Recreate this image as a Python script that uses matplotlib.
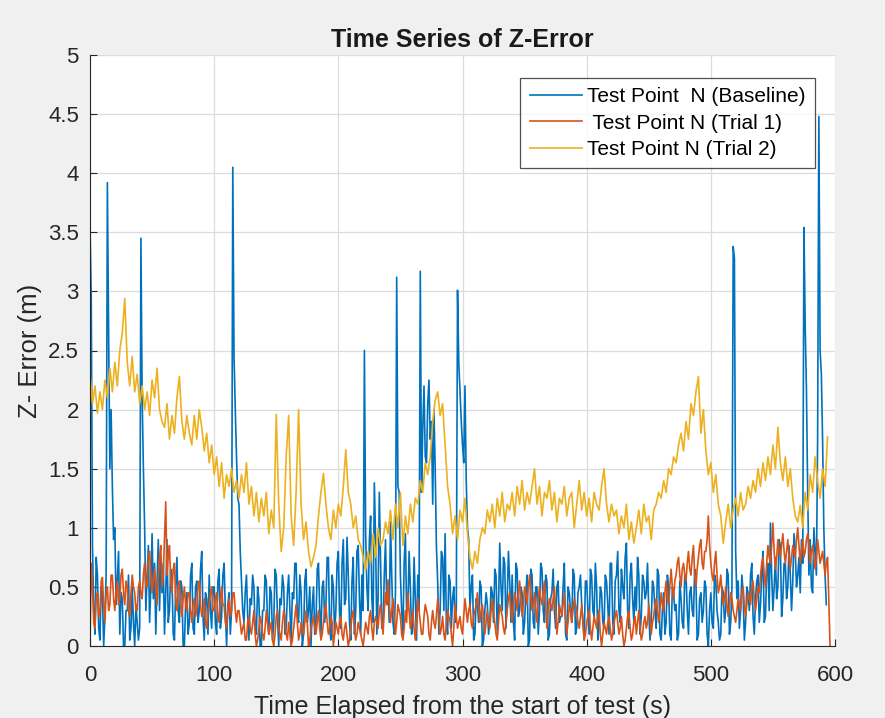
import numpy as np
import matplotlib
matplotlib.use("Agg")
import matplotlib.pyplot as plt

plt.rcParams['font.family'] = ['Liberation Sans', 'DejaVu Sans']

# sample spacing of the recorded series (s)
dt_fast = 1.0   # baseline and trial 1
dt_slow = 2.0   # trial 2

baseline = [
    3.55, 2.95, 0.85, 0.3, 0.1, 0.75, 0.6, 0.15, 0.05, 0.5, 0.45, 0.0, 0.25, 0.6, 3.92, 2.65, 1.5, 2.0, 1.35, 0.9,
    1.0, 0.35, 0.55, 0.8, 0.1, 0.45, 0.4, 0.0, 0.0, 0.3, 0.3, 0.6, 0.05, 0.15, 0.5, 0.2, 0.0, 0.35, 0.2, 0.05,
    0.15, 3.45, 2.1, 1.5, 1.0, 0.3, 0.6, 0.85, 0.2, 0.5, 0.95, 0.4, 0.7, 0.1, 0.55, 0.9, 0.3, 0.75, 0.45, 0.7,
    0.1, 0.45, 0.9, 0.2, 0.3, 0.65, 0.6, 0.1, 0.05, 0.5, 0.75, 0.3, 0.2, 0.55, 0.5, 0.0, 0.0, 0.35, 0.45, 0.1,
    0.2, 0.6, 0.7, 0.15, 0.1, 0.5, 0.55, 0.2, 0.3, 0.65, 0.8, 0.25, 0.05, 0.45, 0.4, 0.1, 0.6, 0.3, 0.15, 0.5,
    0.5, 0.2, 0.1, 0.55, 0.65, 0.15, 0.25, 0.6, 0.7, 0.3, 0.0, 0.35, 0.45, 0.1, 0.3, 4.05, 2.45, 2.0, 1.6, 1.25,
    1.2, 0.8, 0.55, 0.3, 0.2, 0.45, 0.6, 0.25, 0.05, 0.4, 0.35, 0.6, 0.5, 0.15, 0.1, 0.5, 0.4, 0.0, 0.0, 0.3,
    0.3, 0.6, 0.55, 0.2, 0.1, 0.5, 0.45, 0.05, 0.2, 0.65, 0.6, 0.25, 0.0, 0.4, 0.35, 0.6, 0.5, 0.1, 0.15, 0.45,
    0.6, 0.3, 0.05, 0.45, 0.4, 0.7, 0.7, 0.25, 0.2, 0.6, 0.45, 0.0, 0.1, 0.55, 0.65, 0.2, 0.3, 0.5, 0.0, 0.35,
    0.5, 0.1, 0.2, 0.65, 0.7, 0.3, 0.1, 0.5, 0.55, 0.2, 0.35, 0.75, 0.75, 0.15, 0.05, 0.6, 0.5, 0.1, 0.3, 0.7,
    0.8, 0.3, 0.15, 0.7, 0.9, 0.35, 0.4, 0.92, 0.6, 0.2, 0.05, 0.55, 0.75, 0.1, 0.3, 0.8, 0.85, 0.4, 0.1, 0.6,
    0.3, 2.5, 0.95, 0.5, 0.3, 0.9, 1.1, 0.4, 0.2, 1.38, 0.9, 0.1, 0.4, 1.3, 0.7, 0.15, 0.15, 0.6, 0.9, 0.35,
    0.5, 0.2, 1.05, 0.6, 0.2, 0.1, 0.45, 3.12, 1.35, 1.3, 0.6, 0.3, 0.1, 0.7, 0.95, 0.3, 0.3, 0.8, 0.5, 0.1,
    0.2, 0.75, 0.4, 0.05, 0.6, 0.3, 3.17, 1.3, 1.85, 2.2, 1.6, 1.55, 2.05, 2.25, 1.75, 1.9, 1.2, 2.0, 1.5, 0.84,
    0.55, 0.1, 0.3, 0.8, 0.75, 0.3, 0.95, 0.2, 0.1, 0.6, 0.55, 0.15, 0.4, 0.5, 0.2, 0.3, 3.01, 2.4, 2.15, 1.9,
    1.7, 1.55, 2.2, 1.4, 1.0, 0.9, 0.3, 0.5, 0.6, 0.05, 0.1, 0.4, 0.35, 0.2, 0.55, 0.5, 0.0, 0.05, 0.3, 0.45,
    0.35, 0.1, 0.2, 0.5, 0.45, 0.2, 0.65, 0.6, 0.1, 0.35, 0.87, 0.5, 0.3, 0.75, 0.7, 0.15, 0.4, 0.8, 0.55, 0.2,
    0.6, 0.2, 0.05, 0.7, 0.65, 0.25, 0.3, 0.5, 0.45, 0.1, 0.2, 0.45, 0.6, 0.0, 0.05, 0.65, 0.6, 0.2, 0.15, 0.5,
    0.5, 0.1, 0.3, 0.7, 0.65, 0.3, 0.2, 0.6, 0.55, 0.05, 0.1, 0.4, 0.45, 0.65, 0.3, 0.15, 0.5, 0.55, 0.2, 0.25,
    0.25, 0.5, 0.7, 0.1, 0.05, 0.5, 0.45, 0.3, 0.2, 0.65, 0.6, 0.1, 0.15, 0.45, 0.5, 0.6, 0.35, 0.2, 0.05, 0.55,
    0.55, 0.3, 0.1, 0.65, 0.6, 0.3, 0.25, 0.7, 0.5, 0.05, 0.2, 0.5, 0.45, 0.2, 0.15, 0.6, 0.55, 0.35, 0.1, 0.7,
    0.7, 0.2, 0.1, 0.55, 0.6, 0.8, 0.3, 0.2, 0.65, 0.5, 0.4, 0.75, 0.87, 0.3, 0.15, 0.6, 0.7, 0.4, 0.2, 0.5,
    0.3, 0.75, 0.6, 0.1, 0.25, 0.6, 0.55, 0.4, 0.45, 0.7, 0.3, 0.05, 0.2, 0.55, 0.5, 0.3, 0.15, 0.65, 0.6, 0.1,
    0.05, 0.3, 0.45, 0.1, 0.2, 0.6, 0.5, 0.1, 0.05, 0.5, 0.45, 0.3, 0.35, 0.05, 0.1, 0.55, 0.4, 0.2, 0.15, 0.6,
    0.6, 0.3, 0.1, 0.45, 0.5, 0.3, 0.25, 0.65, 0.55, 0.05, 0.1, 0.4, 0.45, 0.2, 0.3, 0.55, 0.5, 0.1, 0.0, 0.3,
    0.45, 0.2, 0.15, 0.6, 0.55, 0.3, 0.2, 0.05, 0.1, 0.5, 0.45, 0.2, 0.3, 0.65, 0.6, 0.1, 0.2, 0.5, 3.38, 3.28,
    0.8, 0.4, 0.55, 0.15, 0.3, 0.6, 0.45, 0.05, 0.2, 0.5, 0.45, 0.3, 0.6, 0.7, 0.25, 0.1, 0.4, 0.55, 0.6, 0.2,
    0.35, 0.6, 0.8, 0.2, 0.25, 0.65, 0.7, 0.3, 1.04, 0.6, 0.3, 0.5, 0.75, 0.4, 0.5, 0.9, 0.85, 0.25, 0.4, 0.7,
    0.7, 0.4, 0.5, 0.85, 0.6, 0.3, 0.55, 0.95, 0.8, 0.5, 0.6, 0.75, 0.45, 0.9, 0.7, 3.54, 2.7, 2.17, 1.3, 0.6,
    0.9, 0.5, 0.45, 1.0, 0.8, 0.6, 1.75, 4.48, 2.5, 2.3, 1.75, 1.0, 0.6, 0.35,
]

trial1 = [
    0.0, 0.7, 0.5, 0.2, 0.15, 0.4, 0.45, 0.25, 0.3, 0.55, 0.58, 0.35, 0.2, 0.45, 0.5, 0.3, 0.35, 0.6, 0.6, 0.4,
    0.3, 0.45, 0.55, 0.35, 0.4, 0.6, 0.65, 0.45, 0.35, 0.55, 0.5, 0.3, 0.25, 0.45, 0.6, 0.5, 0.45, 0.3, 0.3, 0.5,
    0.55, 0.45, 0.4, 0.6, 0.7, 0.5, 0.5, 0.75, 0.8, 0.6, 0.45, 0.55, 0.65, 0.5, 0.35, 0.6, 0.75, 0.85, 0.5, 0.6,
    0.9, 1.22, 0.6, 0.75, 0.85, 0.55, 0.45, 0.65, 0.7, 0.4, 0.3, 0.5, 0.55, 0.35, 0.25, 0.4, 0.5, 0.35, 0.3, 0.45,
    0.45, 0.3, 0.2, 0.35, 0.4, 0.25, 0.3, 0.5, 0.55, 0.35, 0.25, 0.3, 0.4, 0.2, 0.15, 0.3, 0.35, 0.45, 0.5, 0.3,
    0.3, 0.4, 0.45, 0.25, 0.2, 0.4, 0.5, 0.35, 0.35, 0.2, 0.15, 0.3, 0.4, 0.25, 0.3, 0.45, 0.45, 0.3, 0.2, 0.3,
    0.3, 0.2, 0.1, 0.15, 0.2, 0.05, 0.05, 0.2, 0.25, 0.15, 0.1, 0.2, 0.3, 0.1, 0.0, 0.05, 0.15, 0.25, 0.2, 0.1,
    0.05, 0.15, 0.3, 0.2, 0.1, 0.15, 0.2, 0.05, 0.0, 0.1, 0.25, 0.3, 0.15, 0.1, 0.05, 0.2, 0.3, 0.25, 0.1, 0.05,
    0.2, 0.1, 0.0, 0.05, 0.15, 0.25, 0.35, 0.2, 0.05, 0.1, 0.2, 0.15, 0.1, 0.2, 0.3, 0.2, 0.0, 0.05, 0.15, 0.2,
    0.25, 0.15, 0.1, 0.2, 0.3, 0.15, 0.05, 0.1, 0.2, 0.3, 0.35, 0.2, 0.1, 0.15, 0.25, 0.2, 0.0, 0.1, 0.2, 0.15,
    0.1, 0.2, 0.25, 0.1, 0.05, 0.15, 0.2, 0.1, 0.0, 0.05, 0.15, 0.25, 0.3, 0.15, 0.05, 0.1, 0.2, 0.15, 0.1, 0.05,
    0.0, 0.1, 0.2, 0.15, 0.1, 0.25, 0.3, 0.15, 0.05, 0.2, 0.25, 0.2, 0.15, 0.3, 0.35, 0.2, 0.1, 0.3, 0.45, 0.35,
    0.56, 0.35, 0.2, 0.3, 0.4, 0.25, 0.1, 0.2, 0.35, 0.3, 0.25, 0.1, 0.05, 0.15, 0.3, 0.2, 0.45, 0.3, 0.15, 0.2,
    0.3, 0.15, 0.05, 0.2, 0.4, 0.3, 0.2, 0.1, 0.1, 0.25, 0.35, 0.3, 0.25, 0.1, 0.05, 0.2, 0.3, 0.2, 0.15, 0.25,
    0.4, 0.25, 0.1, 0.15, 0.25, 0.1, 0.05, 0.2, 0.3, 0.25, 0.2, 0.1, 0.0, 0.15, 0.35, 0.25, 0.15, 0.2, 0.25, 0.15,
    0.1, 0.25, 0.4, 0.3, 0.2, 0.3, 0.35, 0.2, 0.15, 0.25, 0.3, 0.35, 0.45, 0.3, 0.2, 0.3, 0.35, 0.25, 0.1, 0.2,
    0.3, 0.2, 0.15, 0.3, 0.4, 0.3, 0.2, 0.1, 0.05, 0.2, 0.35, 0.3, 0.25, 0.15, 0.1, 0.2, 0.3, 0.4, 0.45, 0.3,
    0.2, 0.35, 0.45, 0.4, 0.3, 0.45, 0.55, 0.4, 0.25, 0.35, 0.5, 0.45, 0.35, 0.5, 0.6, 0.45, 0.3, 0.35, 0.45, 0.3,
    0.2, 0.4, 0.5, 0.4, 0.35, 0.45, 0.55, 0.35, 0.15, 0.3, 0.4, 0.35, 0.3, 0.4, 0.5, 0.3, 0.1, 0.2, 0.35, 0.3,
    0.25, 0.35, 0.45, 0.25, 0.1, 0.2, 0.35, 0.3, 0.2, 0.3, 0.4, 0.35, 0.3, 0.2, 0.15, 0.25, 0.35, 0.2, 0.05, 0.1,
    0.2, 0.25, 0.3, 0.15, 0.05, 0.15, 0.25, 0.2, 0.15, 0.25, 0.3, 0.1, 0.0, 0.1, 0.2, 0.15, 0.1, 0.2, 0.25, 0.15,
    0.05, 0.1, 0.2, 0.25, 0.3, 0.2, 0.1, 0.15, 0.25, 0.1, 0.0, 0.05, 0.15, 0.25, 0.3, 0.15, 0.05, 0.1, 0.2, 0.25,
    0.1, 0.2, 0.3, 0.15, 0.05, 0.1, 0.2, 0.25, 0.15, 0.2, 0.35, 0.25, 0.1, 0.2, 0.25, 0.35, 0.4, 0.3, 0.2, 0.3,
    0.45, 0.35, 0.3, 0.45, 0.55, 0.4, 0.35, 0.5, 0.65, 0.5, 0.4, 0.55, 0.6, 0.7, 0.75, 0.6, 0.5, 0.65, 0.7, 0.6,
    0.55, 0.7, 0.8, 0.65, 0.6, 0.75, 0.85, 0.6, 0.5, 0.65, 0.75, 0.85, 0.9, 0.7, 0.65, 0.8, 0.8, 0.9, 1.1, 0.85,
    0.7, 0.6, 0.55, 0.7, 0.8, 0.6, 0.45, 0.5, 0.6, 0.45, 0.35, 0.4, 0.5, 0.35, 0.25, 0.35, 0.45, 0.4, 0.3, 0.25,
    0.2, 0.3, 0.4, 0.35, 0.3, 0.45, 0.5, 0.35, 0.25, 0.35, 0.45, 0.4, 0.35, 0.5, 0.55, 0.4, 0.3, 0.4, 0.5, 0.45,
    0.6, 0.7, 0.75, 0.6, 0.5, 0.7, 0.85, 0.75, 0.7, 0.85, 1.04, 0.8, 0.65, 0.75, 0.9, 0.8, 0.75, 0.85, 0.95, 0.8,
    0.7, 0.8, 0.9, 0.75, 0.65, 0.75, 0.85, 0.8, 0.75, 0.9, 1.0, 0.85, 0.7, 0.8, 0.9, 0.75, 0.8, 0.9, 0.95, 0.85,
    0.7, 0.8, 0.85, 0.75, 0.65, 0.75, 0.9, 0.8, 0.7, 0.75, 0.8, 0.7, 0.6, 0.7, 0.75, 0.4, 0.0,
]

trial2 = [
    2.31, 2.05, 2.2, 1.97, 2.15, 2.0, 2.25, 2.1, 2.35, 2.15,
    2.4, 2.2, 2.5, 2.65, 2.94, 2.4, 2.2, 2.45, 2.15, 2.3,
    2.05, 2.2, 2.0, 2.15, 1.95, 2.25, 2.1, 2.35, 2.0, 1.9,
    1.85, 2.05, 1.75, 1.95, 1.8, 2.1, 2.28, 1.9, 1.75, 1.95,
    1.8, 1.7, 1.95, 1.75, 2.0, 1.85, 1.65, 1.8, 1.55, 1.7,
    1.45, 1.6, 1.35, 1.55, 1.25, 1.45, 1.35, 1.5, 1.3, 1.4,
    1.25, 1.45, 1.3, 1.55, 1.2, 1.35, 1.1, 1.3, 1.05, 1.25,
    1.1, 1.3, 0.95, 1.15, 1.0, 1.96, 1.2, 0.8, 1.0, 1.6,
    1.95, 1.1, 0.85, 1.3, 2.0, 1.2, 0.9, 1.05, 0.8, 0.67,
    0.75, 0.85, 1.1, 1.3, 1.46, 1.2, 1.0, 0.9, 1.15, 1.0,
    1.2, 1.1, 1.35, 1.66, 1.3, 1.2, 1.0, 1.1, 0.9, 0.85,
    0.75, 0.64, 0.8, 0.7, 0.95, 0.75, 1.0, 0.85, 0.9, 1.05,
    0.95, 1.15, 0.9, 1.2, 1.0, 1.3, 0.85, 1.1, 0.95, 1.2,
    1.05, 1.25, 1.2, 1.4, 1.3, 1.55, 1.45, 1.6, 1.9, 2.08,
    2.15, 1.95, 2.05, 1.7, 1.35, 1.2, 0.95, 1.1, 0.9, 1.15,
    1.05, 1.25, 0.95, 0.75, 0.65, 0.8, 0.7, 0.9, 1.0, 0.95,
    1.15, 1.05, 1.2, 1.0, 1.25, 1.1, 1.3, 1.05, 1.2, 1.15,
    1.3, 1.1, 1.35, 1.2, 1.4, 1.15, 1.3, 1.2, 1.35, 1.5,
    1.2, 1.35, 1.1, 1.3, 1.25, 1.4, 1.15, 1.3, 1.05, 1.25,
    1.2, 1.35, 1.1, 1.25, 1.3, 1.0, 1.2, 1.4, 1.15, 1.3,
    1.1, 1.25, 1.05, 1.3, 1.2, 1.15, 1.35, 1.5, 1.2, 1.05,
    1.2, 1.1, 1.15, 0.95, 1.1, 1.0, 1.2, 0.9, 1.05, 0.87,
    1.0, 1.15, 0.95, 1.2, 1.05, 1.1, 0.9, 1.15, 1.2, 1.3,
    1.25, 1.4, 1.3, 1.5, 1.45, 1.6, 1.55, 1.7, 1.8, 1.65,
    1.9, 1.75, 2.05, 1.95, 2.15, 2.28, 1.8, 2.0, 1.65, 1.45,
    1.55, 1.3, 1.45, 1.2, 1.1, 0.87, 1.05, 1.2, 1.0, 1.15,
    1.25, 1.1, 1.3, 1.15, 1.2, 1.35, 1.25, 1.4, 1.3, 1.5,
    1.35, 1.55, 1.4, 1.6, 1.45, 1.7, 1.5, 1.85, 1.55, 1.4,
    1.6, 1.35, 1.5, 1.25, 1.1, 1.05, 1.19, 1.0, 1.3, 1.15,
    1.45, 1.3, 1.6, 1.4, 1.25, 1.5, 1.35, 1.77,
]

labels = ['Test Point  N (Baseline)', ' Test Point N (Trial 1)', 'Test Point N (Trial 2)']
colors = ['#0072BD', '#D95319', '#EDB120']

fig = plt.figure(figsize=(8.85, 7.18), dpi=100, facecolor='#f0f0f0')
ax = fig.add_axes([90/885, 72/718, 745/885, 591/718])

for ys, step, lab, c in zip([baseline, trial1, trial2], [dt_fast, dt_fast, dt_slow], labels, colors):
    t = np.arange(len(ys)) * step
    ax.plot(t, ys, color=c, lw=1.2, label=lab)

ax.set_xlim(0, 600)
ax.set_ylim(0, 5)
ax.set_xticks(np.arange(0, 601, 100))
ax.set_yticks(np.arange(0, 5.01, 0.5))
ax.set_yticklabels(['0', '0.5', '1', '1.5', '2', '2.5', '3', '3.5', '4', '4.5', '5'])
ax.grid(True, color='#dcdcdc', lw=0.9)
ax.set_axisbelow(True)
for s in ['top', 'right']:
    ax.spines[s].set_visible(False)
for s in ['left', 'bottom']:
    ax.spines[s].set_color('#262626')
ax.tick_params(direction='in', length=5, colors='#262626', labelsize=16)
ax.tick_params(axis='x', pad=14)
ax.tick_params(axis='y', pad=8)

ax.set_title('Time Series of Z-Error', fontsize=18, fontweight='bold', color='#1a1a1a', pad=6)
ax.set_xlabel('Time Elapsed from the start of test (s)', fontsize=18, color='#262626', labelpad=6)
ax.set_ylabel('Z- Error (m)', fontsize=18.5, color='#262626', labelpad=4)

leg = ax.legend(loc='upper right', bbox_to_anchor=((815 - 90) / 745, 1 - 23 / 591),
                bbox_transform=ax.transAxes, borderaxespad=0,
                fontsize=15, frameon=True, fancybox=False, handlelength=2.5, handletextpad=0.25,
                borderpad=0.45, labelspacing=0.35)
leg.get_frame().set_edgecolor('#262626')
leg.get_frame().set_linewidth(0.9)

fig.savefig('out.png', dpi=100, facecolor=fig.get_facecolor())
